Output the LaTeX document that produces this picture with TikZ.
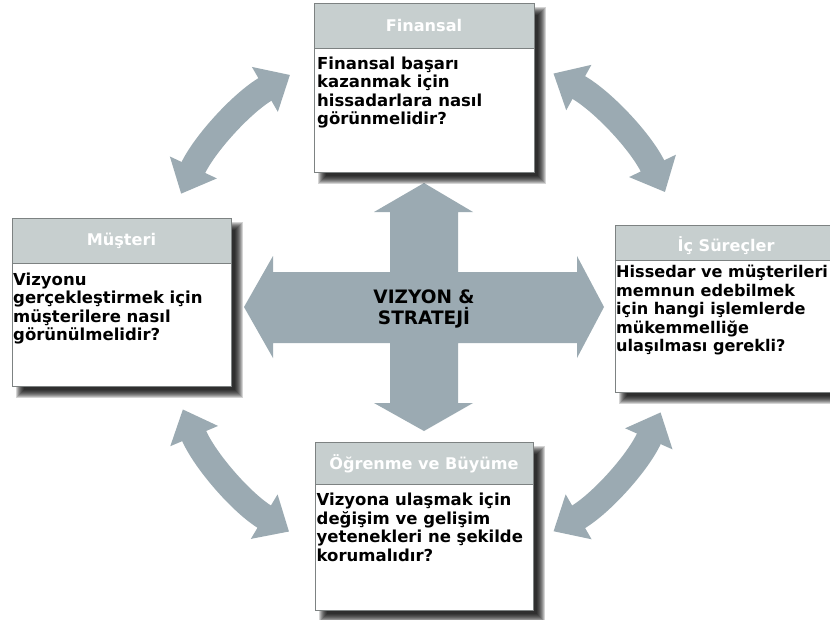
\documentclass[tikz,border=0pt]{standalone}
\usepackage{fontspec}
\setmainfont{DejaVu Sans}
\usetikzlibrary{arrows.meta,calc}
\definecolor{arrowc}{RGB}{155,170,178}
\definecolor{hdrc}{RGB}{199,207,207}
\definecolor{brd}{RGB}{125,130,130}
\newcommand\softshadow[4]{%
  \foreach \e in {-4,...,4}{%
    \fill[black,opacity=0.17] ({#1+8-\e},{-(#2+8-\e)}) rectangle ({#3+8+\e},{-(#4+8+\e)});
  }}
\tikzset{
  box/.style={draw=brd, line width=1pt, fill=white, inner sep=0pt, outer sep=0pt, anchor=north west},
  hdr/.style={fill=hdrc, draw=brd, line width=1pt, inner sep=0pt, outer sep=0pt, anchor=north west},
  hdrtext/.style={text=white, font=\bfseries\fontsize{16.1}{18.5}\selectfont, inner sep=0pt, anchor=base},
  body/.style={font=\bfseries\fontsize{16.5}{18.5}\selectfont, align=left, inner sep=0pt, anchor=north west},
  carrow/.style={line width=26pt, draw=arrowc, {Triangle[width=50pt,length=29pt]}-{Triangle[width=50pt,length=29pt]}}
}
\begin{document}
\begin{tikzpicture}[x=1pt,y=1pt]
\useasboundingbox (0,0) rectangle (830,-619);
\clip (0,0) rectangle (830,-619);
\fill[white] (0,0) rectangle (830,-619);
\coordinate (c) at (424,-307);
% central cross arrow
\fill[arrowc] (244,-307) -- (273,-256) -- (273,-272) -- (390,-272) -- (390,-212) -- (374,-212)
  -- (424,-183) -- (473,-212) -- (458,-212) -- (458,-272) -- (577,-272) -- (577,-256)
  -- (604,-307) -- (577,-358) -- (577,-343) -- (458,-343) -- (458,-403) -- (473,-403)
  -- (424,-431) -- (374,-403) -- (390,-403) -- (390,-343) -- (273,-343) -- (273,-358) -- cycle;
\node[font=\bfseries\fontsize{18.5}{21}\selectfont, align=center, inner sep=0pt] (vs) at (424,-309) {VIZYON \&\\STRATEJİ};
% curved arrows
\draw[carrow] ($(c)+(155:268)$) arc[start angle=155, end angle=120, radius=268];
\draw[carrow] ($(c)+(61:267)$) arc[start angle=61, end angle=25.5, radius=267];
\draw[carrow] ($(c)+(203:262)$) arc[start angle=203, end angle=239, radius=262];
\draw[carrow] ($(c)+(300:259)$) arc[start angle=300, end angle=336, radius=259];
% shadows
\softshadow{314}{3}{534}{172}
\softshadow{12}{218}{231}{386}
\softshadow{615}{225}{837}{392}
\softshadow{315}{442}{533}{610}
% Finansal
\node[box, minimum width=220pt, minimum height=169pt] (fin) at (314,-3) {};
\node[hdr, minimum width=220pt, minimum height=45pt] (finh) at (fin.north west) {};
\node[hdrtext] (finl) at ($(finh.north)+(0,-28.7)$) {Finansal};
\node[body] (finb) at (317,-56.5) {Finansal başarı\\kazanmak için\\hissadarlara nasıl\\görünmelidir?};
% Musteri
\node[box, minimum width=219pt, minimum height=168pt] (mus) at (12,-218) {};
\node[hdr, minimum width=219pt, minimum height=45pt] (mush) at (mus.north west) {};
\node[hdrtext] (musl) at ($(mush.north)+(0,-27.7)$) {Müşteri};
\node[body] (musb) at (13,-272.5) {Vizyonu\\gerçekleştirmek için\\müşterilere nasıl\\görünülmelidir?};
% Ic Surecler
\node[box, minimum width=222pt, minimum height=167pt] (ics) at (615,-225) {};
\node[hdr, minimum width=222pt, minimum height=35pt] (icsh) at (ics.north west) {};
\node[hdrtext] (icsl) at ($(icsh.north)+(0,-26.7)$) {İç Süreçler};
\node[body, font=\bfseries\fontsize{16.1}{18.5}\selectfont] (icsb) at (616,-265.2) {Hissedar ve müşterileri\\memnun edebilmek\\için hangi işlemlerde\\mükemmelliğe\\ulaşılması gerekli?};
% Ogrenme
\node[box, minimum width=218pt, minimum height=168pt] (ogr) at (315,-442) {};
\node[hdr, minimum width=218pt, minimum height=42pt] (ogrh) at (ogr.north west) {};
\node[hdrtext] (ogrl) at ($(ogrh.north)+(0,-27.3)$) {Öğrenme ve Büyüme};
\node[body] (ogrb) at (316.5,-492.8) {Vizyona ulaşmak için\\değişim ve gelişim\\yetenekleri ne şekilde\\korumalıdır?};
\end{tikzpicture}
\end{document}
